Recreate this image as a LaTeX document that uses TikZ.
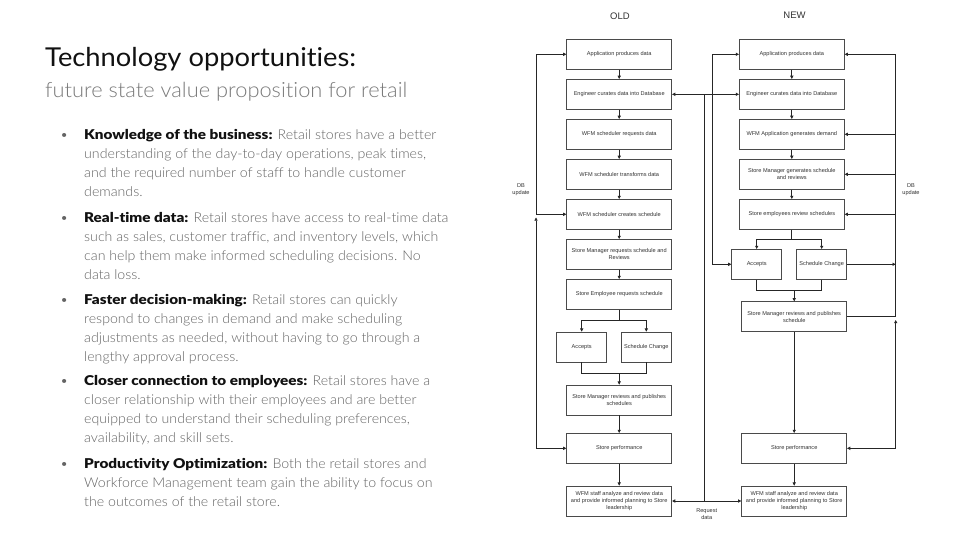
\documentclass[tikz,border=0pt]{standalone}
\usepackage{fontspec}
\setmainfont{Liberation Sans}
\newfontfamily\diagfont{Liberation Sans}
\newfontfamily\leadfont{Lato Light}[Ligatures=NoCommon, Contextuals=NoAlternate,
  FakeStretch=1.05, BoldFont={Lato Black}, BoldFeatures={FakeStretch=1.13}]
\newfontfamily\titlefont{Lato}[Ligatures=NoCommon, Contextuals=NoAlternate, FakeStretch=1.05]
\newfontfamily\subfont{Lato Light}[Ligatures=NoCommon, Contextuals=NoAlternate, FakeStretch=1.04]
\usetikzlibrary{arrows.meta}
\definecolor{ink}{HTML}{111111}
\definecolor{bodyc}{HTML}{646464}
\definecolor{subc}{HTML}{7A7A7A}
\definecolor{boxc}{HTML}{4A4A4A}
\definecolor{linec}{HTML}{262626}
\definecolor{boxtext}{HTML}{333333}
\newcommand\hd[1]{{\bfseries\color{ink}#1}}
\newcommand\bulletline[1]{\parbox[t]{430pt}{\noindent\leadfont\fontsize{13.5}{19}\selectfont
  \color{bodyc}\hangindent=24pt\hangafter=1\makebox[24pt][l]{•}#1}}
\begin{document}
\begin{tikzpicture}[x=1pt,y=-1pt,
  stepbox/.style={draw=boxc, line width=0.7pt, fill=white, minimum width=105pt,
    minimum height=30pt, inner sep=1pt, align=center, text=boxtext,
    font=\diagfont\fontsize{5.6}{7.3}\selectfont},
  smallbox/.style={stepbox, minimum width=50pt},
  conn/.style={draw=linec, line width=0.7pt},
  arr/.style={conn, -{Triangle[length=3.2pt,width=3.2pt]}},
  arrboth/.style={conn, {Triangle[length=3.2pt,width=3.2pt]}-{Triangle[length=3.2pt,width=3.2pt]}},
  note/.style={align=center, inner sep=0pt, text=boxtext, font=\diagfont\fontsize{5.6}{7.3}\selectfont},
  head/.style={inner sep=0pt, text=boxtext, font=\diagfont\fontsize{9.5}{11}\selectfont},
  lead/.style={anchor=base west, inner sep=0pt}]

\fill[white] (0,0) rectangle (960,540);
\useasboundingbox (0,0) rectangle (960,540);

% ---------- heading and bullet list ----------
\node[lead] (title) at (45,66.5)
  {\titlefont\fontsize{26}{30}\selectfont\color{ink}Technology opportunities:};
\node[lead] (subtitle) at (45,97.5)
  {\subfont\fontsize{21}{24}\selectfont\color{subc}future state value proposition for retail};

\node[lead] (b1) at (60,139.5) {\bulletline{\hd{Knowledge of the business:} Retail stores have a better\\
  understanding of the day-to-day operations, peak times,\\
  and the required number of staff to handle customer\\
  demands.}};
\node[lead] (b2) at (60,222) {\bulletline{\hd{Real-time data:} Retail stores have access to real-time data\\
  such as sales, customer traffic, and inventory levels, which\\
  can help them make informed scheduling decisions. No\\
  data loss.}};
\node[lead] (b3) at (60,304.5) {\bulletline{\hd{Faster decision-making:} Retail stores can quickly\\
  respond to changes in demand and make scheduling\\
  adjustments as needed, without having to go through a\\
  lengthy approval process.}};
\node[lead] (b4) at (60,385.5) {\bulletline{\hd{Closer connection to employees:} Retail stores have a\\
  closer relationship with their employees and are better\\
  equipped to understand their scheduling preferences,\\
  availability, and skill sets.}};
\node[lead] (b5) at (60,468) {\bulletline{\hd{Productivity Optimization:} Both the retail stores and\\
  Workforce Management team gain the ability to focus on\\
  the outcomes of the retail store.}};

% ---------- OLD process ----------
\node[head] (oldh) at (620,16.3) {OLD};
\node[stepbox] (o1) at (619.2,54.3) {Application produces data};
\node[stepbox] (o2) at (619.2,94.3) {Engineer curates data into Database};
\node[stepbox] (o3) at (619.2,134.3) {WFM scheduler requests data};
\node[stepbox] (o4) at (619.2,174.3) {WFM scheduler transforms data};
\node[stepbox] (o5) at (619.2,214.3) {WFM scheduler creates schedule};
\node[stepbox] (o6) at (619.2,254.3) {Store Manager requests schedule and\\Reviews};
\node[stepbox] (o7) at (619.2,294.3) {Store Employee requests schedule};
\node[smallbox] (oacc) at (581.7,347) {Accepts};
\node[smallbox] (ochg) at (646.3,347) {Schedule Change};
\node[stepbox] (o9) at (619.2,400) {Store Manager reviews and publishes\\schedules};
\node[stepbox] (o10) at (619.2,448.3) {Store performance};
\node[stepbox] (o11) at (619.2,501) {WFM staff analyze and review data\\and provide informed planning to Store\\leadership};

\draw[arr] (o1) -- (o2);
\draw[arr] (o2) -- (o3);
\draw[arr] (o3) -- (o4);
\draw[arr] (o4) -- (o5);
\draw[arr] (o5) -- (o6);
\draw[arr] (o6) -- (o7);
\coordinate (obr) at (619.2,320);
\draw[conn] (o7.south) -- (obr);
\draw[arr] (obr) -| (oacc.north);
\draw[arr] (obr) -| (ochg.north);
\coordinate (ojn) at (619.2,373.3);
\draw[conn] (oacc.south) |- (ojn);
\draw[conn] (ochg.south) |- (ojn);
\draw[arr] (ojn) -- (o9.north);
\draw[arr] (o9) -- (o10);
\draw[arr] (o10) -- (o11);

% database update rail on the left
\coordinate (oL) at (536,0);
\coordinate (oLtop) at (536,217.5);
\draw[arrboth] (o1.west) -- (o1.west -| oL) |- (o5.west);
\draw[arrboth] (o10.west) -| (oLtop);
\node[note] (odb) at (521,190) {DB\\update};

% ---------- NEW process ----------
\node[head] (newh) at (794.5,15.3) {NEW};
\node[stepbox] (n1) at (791.8,54.3) {Application produces data};
\node[stepbox] (n2) at (791.8,94.3) {Engineer curates data into Database};
\node[stepbox] (n3) at (791.8,134.3) {WFM Application generates demand};
\node[stepbox] (n4) at (791.8,174.3) {Store Manager generates schedule\\and reviews};
\node[stepbox] (n5) at (791.8,214.3) {Store employees review schedules};
\node[smallbox] (nacc) at (756.7,264.3) {Accepts};
\node[smallbox] (nchg) at (821.7,264.3) {Schedule Change};
\node[stepbox] (n7) at (794.2,316.7) {Store Manager reviews and publishes\\schedule};
\node[stepbox] (n8) at (794.2,448.3) {Store performance};
\node[stepbox] (n9) at (794.2,501) {WFM staff analyze and review data\\and provide informed planning to Store\\leadership};

% ---------- links between the two processes ----------
\coordinate (mid) at (704,94.3);
\coordinate (midb) at (704,501);
\draw[arrboth] (o2.east) -- (n2.west);
\draw[conn] (mid) -- (midb);
\draw[arrboth] (o11.east) -- (n9.west);
\node[note] (req) at (706.7,514) {Request\\data};

\draw[arr] (n1) -- (n2);
\draw[arr] (n2) -- (n3);
\draw[arr] (n3) -- (n4);
\draw[arr] (n4) -- (n5);
\coordinate (nbr) at (791.8,239);
\draw[conn] (n5.south) -- (nbr);
\draw[arr] (nbr) -| (nacc.north);
\draw[arr] (nbr) -| (nchg.north);
\coordinate (njn) at (794.2,290.7);
\draw[conn] (nacc.south) |- (njn);
\draw[conn] (nchg.south) |- (njn);
\draw[arr] (njn) -- (n7.north);
\draw[arr] (n7) -- (n8);
\draw[arr] (n8) -- (n9);

% rail on the left of the new process
\coordinate (nL) at (712.7,0);
\draw[arrboth] (n1.west) -- (n1.west -| nL) |- (nacc.west);

% database update rail on the right
\coordinate (nR) at (895.7,0);
\coordinate (nRtop) at (895.7,320);
\draw[conn] (n7.east) -- (n7.east -| nR) -- (n1.east -| nR);
\draw[arr] (n1.east -| nR) -- (n1.east);
\draw[arr] (n3.east -| nR) -- (n3.east);
\draw[arr] (n4.east -| nR) -- (n4.east);
\draw[arr] (n5.east -| nR) -- (n5.east);
\draw[arr] (nchg.east) -- (nchg.east -| nR);
\draw[arrboth] (n8.east) -| (nRtop);
\node[note] (ndb) at (911,190) {DB\\update};
\end{tikzpicture}
\end{document}
